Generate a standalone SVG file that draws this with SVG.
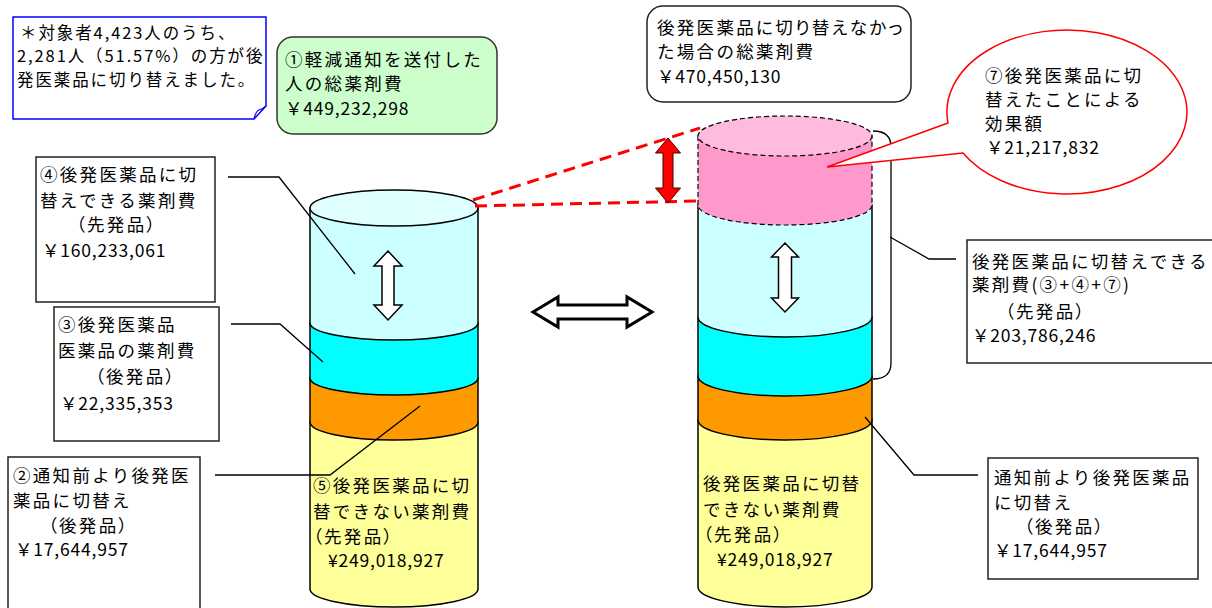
<svg xmlns="http://www.w3.org/2000/svg" width="1212" height="608" viewBox="0 0 1212 608">
<defs>
<style>
text{font-family:"Noto Sans CJK JP","Noto Sans CJK SC",sans-serif;font-size:17.5px;letter-spacing:2.3px;fill:#000}
.note text{font-size:16.5px;letter-spacing:1.9px}
.n{font-size:17.5px;letter-spacing:0.8px}
.p{font-feature-settings:"palt"}
.box{fill:#fff;stroke:#222;stroke-width:1.5}
.cyl{stroke:#000;stroke-width:1.5}
.dash{stroke:#000;stroke-width:1.2;stroke-dasharray:5 3}
.lead{fill:none;stroke:#000;stroke-width:1.3}
.red{fill:none;stroke:#f00;stroke-width:3;stroke-dasharray:12 7}
.warrow{fill:#fff;stroke:#000;stroke-width:1.5;stroke-linejoin:miter}
</style>
</defs>
<rect width="1212" height="608" fill="#fff"/>

<!-- left cylinder -->
<g id="cylinder-left">
<path class="cyl" fill="#FFFF99" d="M310,422 V589 A84,18 0 0 0 478,589 V422 Z"/>
<path class="cyl" fill="#FF9900" d="M310,378 V422 A84,18 0 0 0 478,422 V378 Z"/>
<path class="cyl" fill="#00FFFF" d="M310,323 V378 A84,17 0 0 0 478,378 V323 Z"/>
<path class="cyl" fill="#CCFFFF" d="M310,208 V323 A84,17 0 0 0 478,323 V208 Z"/>
<ellipse class="cyl" fill="#E0FFFF" cx="394" cy="208" rx="84" ry="18"/>
<path class="warrow" d="M388,251 L402,266 L394,266 L394,305 L402,305 L388,320 L374,305 L382,305 L382,266 L374,266 Z"/>
<text x="313" y="492">⑤後発医薬品に切</text>
<text x="313" y="518">替できない薬剤費</text>
<text class="p" x="313" y="543">（先発品）</text>
<text class="n" x="328" y="567">¥249,018,927</text>
</g>

<!-- right cylinder -->
<g id="cylinder-right">
<path class="cyl" fill="#FFFF99" d="M698,420 V587 A87,20 0 0 0 872,587 V420 Z"/>
<path class="cyl" fill="#FF9900" d="M698,376 V420 A87,20 0 0 0 872,420 V376 Z"/>
<path class="cyl" fill="#00FFFF" d="M698,317 V376 A87,20 0 0 0 872,376 V317 Z"/>
<path class="cyl" fill="#CCFFFF" d="M698,205 V317 A87,20 0 0 0 872,317 V205 Z"/>
<path class="dash" fill="#FF99CC" d="M698,136 V205 A87,20 0 0 0 872,205 V136 Z"/>
<ellipse class="dash" fill="#FFBBDD" cx="785" cy="136" rx="87" ry="20"/>
<path class="warrow" d="M785,243 L798.5,257 L791.5,257 L791.5,298 L798.5,298 L785,312 L771.5,298 L778.5,298 L778.5,257 L771.5,257 Z"/>
<text x="703" y="490">後発医薬品に切替</text>
<text x="703" y="516">できない薬剤費</text>
<text class="p" x="703" y="541">（先発品）</text>
<text class="n" x="717" y="566">¥249,018,927</text>
</g>

<!-- connectors -->
<g id="connectors">
<path class="lead" d="M228,177 H279 L355,274"/>
<path class="lead" d="M231,324 H280 L323,362"/>
<path class="lead" d="M215,475 H330 L420,406"/>
<path class="lead" d="M873,131 Q891,131 891,147 V363 Q891,379 873,379"/>
<path class="lead" d="M890,237 L929,259 H956"/>
<path class="lead" d="M865,417 L914,475 H978"/>
<path class="red" d="M473,200 L700,128"/>
<path class="red" d="M475,206 L698,201"/>
<path fill="#f00" stroke="#400" stroke-width="1" d="M668,138 L680.5,153 L673,153 L673,188 L680.5,188 L668,203 L655.5,188 L663,188 L663,153 L655.5,153 Z"/>
<path fill="#fff" stroke="#000" stroke-width="3" d="M533,312 L558,297 L558,305 L627,305 L627,297 L652,312 L627,327 L627,319 L558,319 L558,327 Z"/>
</g>

<!-- note -->
<g id="note" class="note">
<path fill="#fff" stroke="#0000FF" stroke-width="1.5" d="M13,17 H266 V106 L254,119 H13 Z"/>
<path fill="none" stroke="#0000FF" stroke-width="1.2" d="M254,119 Q256,111 259,110 Q263,109 266,106"/>
<text x="20" y="39">＊対象者4,423人のうち、</text>
<text x="17" y="62">2,281人（51.57%）の方が後</text>
<text x="17" y="86">発医薬品に切り替えました。</text>
</g>

<g id="box-total">
<rect x="277" y="37" width="220" height="97" rx="16" fill="#CCFFCC" stroke="#333" stroke-width="1.5"/>
<text x="285" y="66">①軽減通知を送付した</text>
<text x="285" y="90">人の総薬剤費</text>
<text class="n" x="285" y="115">￥449,232,298</text>
</g>

<g id="box-without">
<rect x="647" y="6" width="264" height="96" rx="16" class="box"/>
<text class="p" x="657" y="34">後発医薬品に切り替えなかっ</text>
<text x="657" y="58">た場合の総薬剤費</text>
<text class="n" x="657" y="83">￥470,450,130</text>
</g>

<g id="callout-effect">
<path fill="#fff" stroke="#f00" stroke-width="1.5" d="M948,123 L827,167 L963,153 A120,82 0 1 0 948,123 Z"/>
<text x="985" y="82">⑦後発医薬品に切</text>
<text x="985" y="106">替えたことによる</text>
<text x="985" y="130">効果額</text>
<text class="n" x="986" y="154">￥21,217,832</text>
</g>

<g id="box-4">
<rect x="36" y="157" width="179" height="145" class="box"/>
<text x="40" y="181">④後発医薬品に切</text>
<text x="40" y="207">替えできる薬剤費</text>
<text class="p" x="76" y="231">（先発品）</text>
<text class="n" x="42" y="257">￥160,233,061</text>
</g>

<g id="box-3">
<rect x="54" y="307" width="165" height="134" class="box"/>
<text x="58" y="331">③後発医薬品</text>
<text x="58" y="357">医薬品の薬剤費</text>
<text class="p" x="95" y="383">（後発品）</text>
<text class="n" x="60" y="410">￥22,335,353</text>
</g>

<g id="box-2">
<rect x="8" y="457" width="192" height="165" class="box"/>
<text x="13" y="482">②通知前より後発医</text>
<text x="13" y="507">薬品に切替え</text>
<text class="p" x="48" y="532">（後発品）</text>
<text class="n" x="15" y="556">￥17,644,957</text>
</g>

<g id="box-switchable">
<rect x="967" y="240" width="260" height="123" class="box"/>
<text x="972" y="268">後発医薬品に切替えできる</text>
<text x="972" y="291">薬剤費(③+④+⑦)</text>
<text class="p" x="1005" y="318">（先発品）</text>
<text class="n" x="972" y="342">￥203,786,246</text>
</g>

<g id="box-before">
<rect x="988" y="458" width="210" height="121" class="box"/>
<text x="994" y="484">通知前より後発医薬品</text>
<text x="994" y="509">に切替え</text>
<text class="p" x="1024" y="533">（後発品）</text>
<text class="n" x="994" y="557">￥17,644,957</text>
</g>
</svg>
